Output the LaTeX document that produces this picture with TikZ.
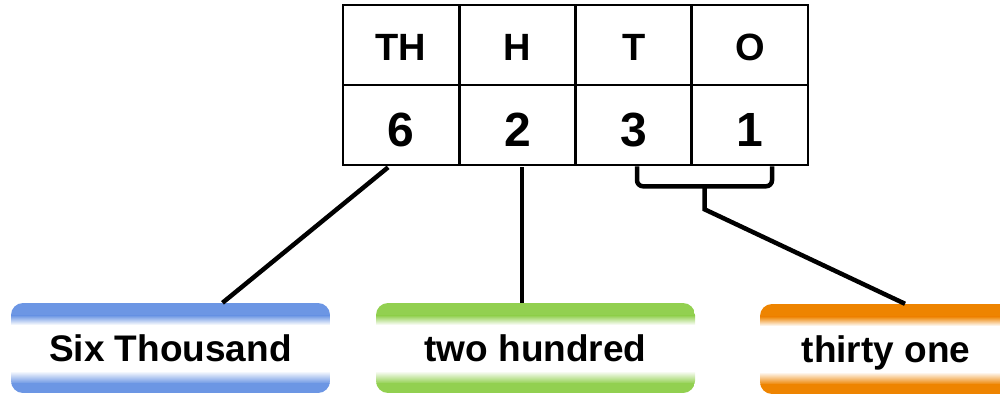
\documentclass[tikz,border=0pt]{standalone}
\usepackage{fontspec}
\setmainfont{Liberation Sans}
\usetikzlibrary{calc}
\definecolor{bluebox}{RGB}{108,150,228}
\definecolor{greenbox}{RGB}{146,208,80}
\definecolor{orangebox}{RGB}{238,132,0}
\begin{document}
\begin{tikzpicture}[x=1pt,y=-1pt,
  cell/.style={draw,line width=2.6pt,minimum width=116.25pt,minimum height=80pt,inner sep=0pt},
  head/.style={inner sep=0pt,anchor=base,font=\bfseries\fontsize{38}{38}\selectfont},
  digit/.style={inner sep=0pt,anchor=base,font=\bfseries\fontsize{48}{48}\selectfont},
  conn/.style={line width=4.5pt},
  labelbox/.style={rounded corners=12pt, minimum height=90pt, inner sep=0pt,
    text height=27pt, text depth=0pt,
    font=\bfseries\fontsize{37}{37}\selectfont,
    path picture={
      \fill[#1, sharp corners] (path picture bounding box.north west) rectangle ([yshift=-13pt]path picture bounding box.north east);
      \shade[top color=#1,bottom color=white, sharp corners] ([yshift=-12.5pt]path picture bounding box.north west) rectangle ([yshift=-22pt]path picture bounding box.north east);
      \shade[top color=white,bottom color=#1, sharp corners] ([yshift=22pt]path picture bounding box.south west) rectangle ([yshift=9.5pt]path picture bounding box.south east);
      \fill[#1, sharp corners] ([yshift=10pt]path picture bounding box.south west) rectangle (path picture bounding box.south east);
    }}]
\useasboundingbox (0,0) rectangle (1000,395);

% table
\node[cell] (h1) at (401.1,45) {};
\node[cell] (h2) at (517.4,45) {};
\node[cell] (h3) at (633.7,45) {};
\node[cell] (h4) at (749.9,45) {};
\node[cell] (d1) at (401.1,125) {};
\node[cell] (d2) at (517.4,125) {};
\node[cell] (d3) at (633.7,125) {};
\node[cell] (d4) at (749.9,125) {};

\node[head] (tTH) at (h1.center |- 0,61) {TH};
\node[head] (tH)  at (h2.center |- 0,61) {H};
\node[head] (tT)  at (h3.center |- 0,61) {T};
\node[head] (tO)  at (h4.center |- 0,61) {O};
\node[digit] (n6) at (d1.center |- 0,146.5) {6};
\node[digit] (n2) at (d2.center |- 0,146.5) {2};
\node[digit] (n3) at (d3.center |- 0,146.5) {3};
\node[digit] (n1) at (d4.center |- 0,146.5) {1};

% label boxes
\node[labelbox=bluebox, minimum width=319pt] (six) at (170.5,348) {Six Thousand};
\node[labelbox=greenbox, minimum width=319pt] (two) at (535.5,348) {two hundred};
\node[labelbox=orangebox, minimum width=252pt] (thirty) at (886,349) {thirty one};

% connectors
\draw[conn] ([xshift=-13pt,yshift=-1pt]d1.south) -- ([xshift=52pt]six.north);
\draw[conn] ([xshift=4.6pt,yshift=-1pt]d2.south) -- ([xshift=4.6pt]d2.south |- two.north);
\coordinate (bl) at ([xshift=3.3pt]d3.south);
\coordinate (br) at ([xshift=22.1pt]d4.south);
\coordinate (bm) at ($(bl)!0.5!(br)+(0,20)$);
\draw[conn, rounded corners=6pt] (bl) -- ++(0,20) -- ($(br)+(0,20)$) -- (br);
\draw[conn] (bm) -- ++(0,23) -- ([xshift=19pt]thirty.north);
\end{tikzpicture}
\end{document}
